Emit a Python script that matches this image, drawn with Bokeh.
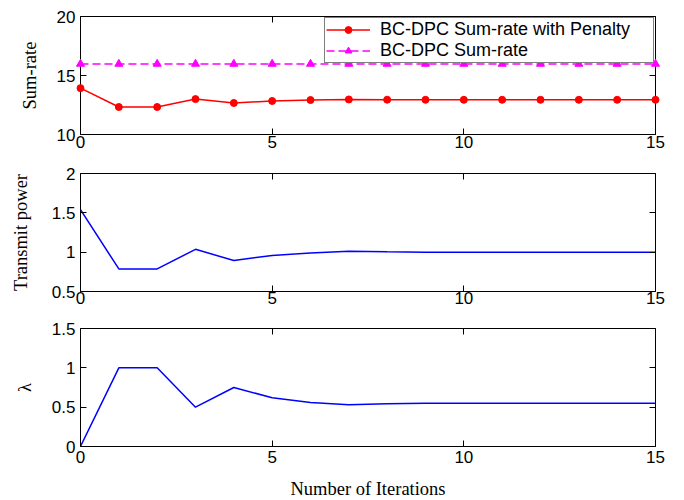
from bokeh.plotting import figure
from bokeh.layouts import column
from bokeh.models import Range1d, LinearAxis, FixedTicker
from bokeh.embed import file_html
from bokeh.resources import INLINE

# ---------------- data ----------------
iterations = [0, 1, 2, 3, 4, 5, 6, 7, 8, 9, 10, 11, 12, 13, 14, 15]
sum_rate_penalty = [13.93, 12.33, 12.33, 13.0, 12.67, 12.84, 12.92, 12.97,
                    12.95, 12.94, 12.94, 12.94, 12.94, 12.94, 12.94, 12.94]
sum_rate = [15.98, 15.98, 15.98, 15.98, 15.98, 15.98, 15.98, 15.98,
            15.98, 15.98, 15.98, 15.98, 15.98, 15.98, 15.98, 15.98]
transmit_power = [1.54, 0.787, 0.787, 1.036, 0.894, 0.959, 0.99, 1.012,
                  1.004, 1.0, 1.0, 1.0, 1.0, 1.0, 1.0, 1.0]
lambda_values = [0.0, 1.0, 1.0, 0.5, 0.75, 0.62, 0.56, 0.53,
                 0.545, 0.55, 0.55, 0.55, 0.55, 0.55, 0.55, 0.55]

x_ticks = [0, 5, 10, 15]
x_tick_labels = ["0", "5", "10", "15"]
sr_ticks = [10, 15, 20]
sr_tick_labels = ["10", "15", "20"]
tp_ticks = [0.5, 1, 1.5, 2]
tp_tick_labels = ["0.5", "1", "1.5", "2"]
lam_ticks = [0, 0.5, 1, 1.5]
lam_tick_labels = ["0", "0.5", "1", "1.5"]

label_penalty = "BC-DPC Sum-rate with Penalty"
label_sumrate = "BC-DPC Sum-rate"

TICK_FONT = "Liberation Sans"
LABEL_FONT = "Liberation Serif"


def mirror_axis(ticks):
    return LinearAxis(ticker=FixedTicker(ticks=ticks, minor_ticks=[]),
                      major_label_text_font_size="0px",
                      major_label_text_color=None,
                      major_label_text_alpha=0,
                      major_label_standoff=0,
                      major_tick_in=6, major_tick_out=0, axis_line_color=None,
                      minor_tick_line_color=None, major_tick_line_color="#000000")


def make_panel(y_lo, y_hi, yt, ytl, ylabel, top, bottom, standoff, ylab_standoff,
               xlabel=None):
    p = figure(frame_width=575, frame_height=118,
               x_range=Range1d(0, 15), y_range=Range1d(y_lo, y_hi),
               output_backend="svg", toolbar_location=None,
               min_border_left=80, min_border_right=29,
               min_border_top=top, min_border_bottom=bottom)
    p.grid.visible = False
    p.outline_line_color = "#000000"
    p.outline_line_width = 1
    p.background_fill_color = "white"
    p.border_fill_color = "white"

    for ax, ticks, labels in ((p.xaxis[0], x_ticks, x_tick_labels),
                              (p.yaxis[0], yt, ytl)):
        ax.ticker = FixedTicker(ticks=ticks, minor_ticks=[])
        ax.major_label_overrides = dict(zip(ticks, labels))
        ax.major_tick_in = 6
        ax.major_tick_out = 0
        ax.minor_tick_line_color = None
        ax.axis_line_color = None
        ax.major_tick_line_color = "#000000"
        ax.major_label_text_font = TICK_FONT
        ax.major_label_text_font_size = "17px"
        ax.major_label_text_color = "#000000"
        ax.axis_label_text_font = LABEL_FONT
        ax.axis_label_text_font_size = "18.5px"
        ax.axis_label_text_font_style = "normal"
        ax.axis_label_text_color = "#000000"
    p.xaxis[0].major_label_standoff = standoff
    p.yaxis[0].major_label_standoff = 5
    p.yaxis[0].axis_label = ylabel
    p.yaxis[0].axis_label_standoff = ylab_standoff
    if xlabel:
        p.xaxis[0].axis_label = xlabel
        p.xaxis[0].axis_label_standoff = 13

    # mirrored tick marks on top and right (no labels)
    p.add_layout(mirror_axis(x_ticks), "above")
    p.add_layout(mirror_axis(yt), "right")
    return p


# ---------------- panel 1 ----------------
p1 = make_panel(10, 20, sr_ticks, sr_tick_labels, "Sum-rate", 16, 22, 1, 14)
p1.line(iterations, sum_rate_penalty, line_color="#ff0000", line_width=1.5,
        legend_label=label_penalty)
p1.scatter(iterations, sum_rate_penalty, marker="circle", size=7,
           fill_color="#ff0000", line_color="#ff0000", legend_label=label_penalty,
           level="overlay")
p1.line(iterations, sum_rate, line_color="#ff00ff", line_width=1.5,
        line_dash="8 4", legend_label=label_sumrate, level="overlay")
p1.scatter(iterations, sum_rate, marker="triangle", size=8,
           fill_color="#ff00ff", line_color="#ff00ff", legend_label=label_sumrate,
           level="overlay")
lg = p1.legend[0]
lg.location = "top_right"
lg.margin = 1
lg.padding = 1
lg.spacing = 0
lg.glyph_width = 44
lg.glyph_height = 17
lg.label_height = 17
lg.label_width = 272
lg.label_standoff = 10
lg.label_text_font = TICK_FONT
lg.label_text_font_size = "18px"
lg.label_text_color = "#000000"
lg.border_line_color = "#000000"
lg.border_line_width = 1
lg.background_fill_color = "white"
lg.background_fill_alpha = 1

# ---------------- panel 2 ----------------
p2 = make_panel(0.5, 2, tp_ticks, tp_tick_labels, "Transmit power", 17, 22, 0, 18)
p2.line(iterations, transmit_power, line_color="#0000ff", line_width=1.5)

# ---------------- panel 3 ----------------
p3 = make_panel(0, 1.5, lam_ticks, lam_tick_labels, "\u03bb", 15, 55, 4, 14,
                xlabel="Number of Iterations")
p3.line(iterations, lambda_values, line_color="#0000ff", line_width=1.5)

layout = column(p1, p2, p3, spacing=0)
open("out.html", "w").write(file_html(layout, INLINE))
